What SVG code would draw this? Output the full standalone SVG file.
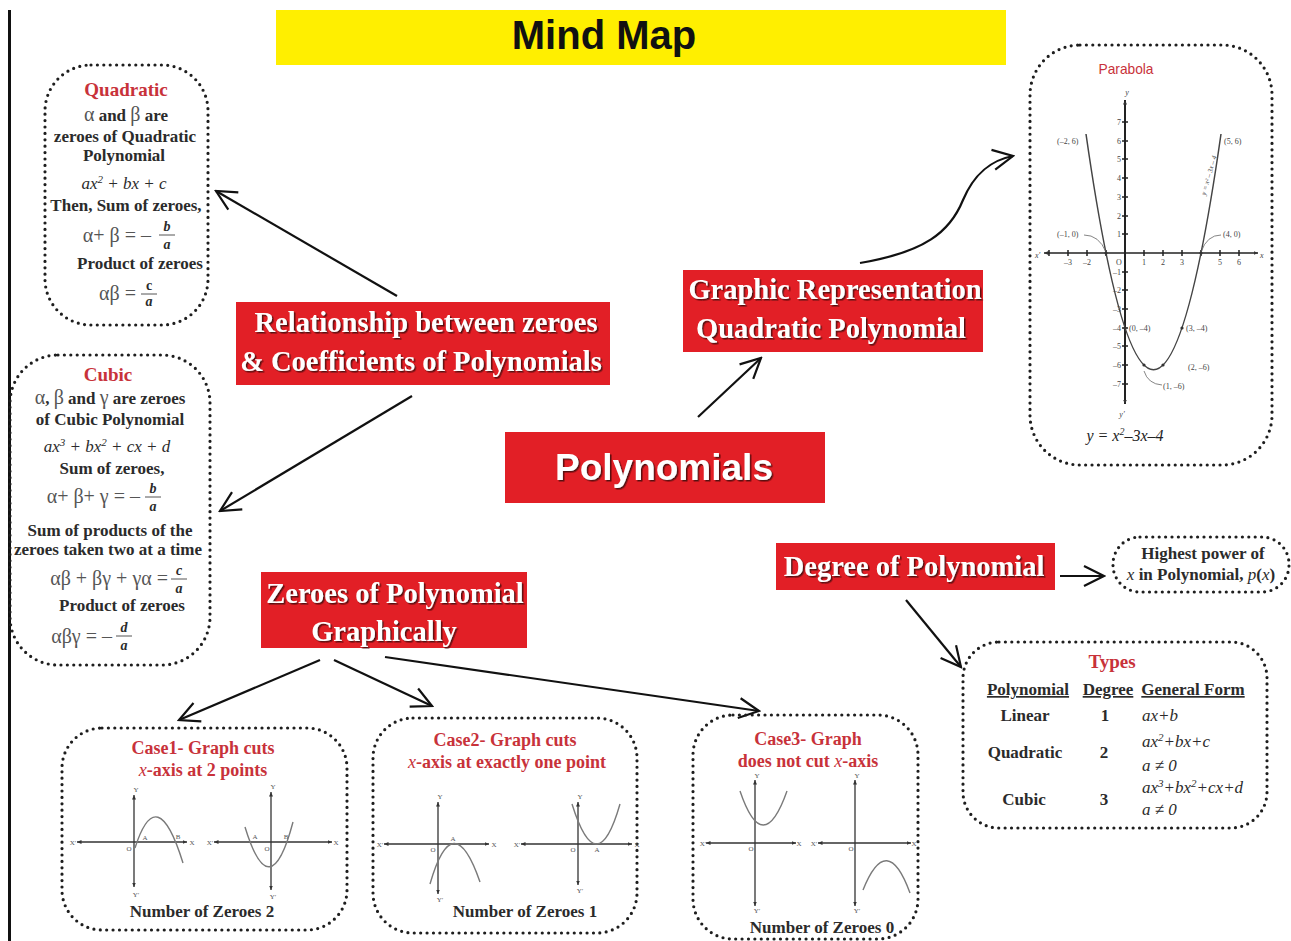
<svg xmlns="http://www.w3.org/2000/svg" width="1291" height="941" viewBox="0 0 1291 941">
<defs>
<style>
.dot{fill:none;stroke:#1e1e1e;stroke-width:3.2;stroke-dasharray:0 6.4;stroke-linecap:round}
.rbox{fill:#e21f26}
.rt{font-family:"Liberation Serif",serif;font-weight:bold;fill:#fff;font-size:28.5px;text-anchor:middle}
.t{font-family:"Liberation Serif",serif;font-weight:bold;fill:#2b2b2b;font-size:17px;text-anchor:middle}
.l{text-anchor:start}
.e{text-anchor:end}
.g{font-weight:normal;fill:#555;font-size:20px}
.fr{font-style:italic;font-size:14px}
.red{fill:#c8323a;font-size:19px}
.cr{fill:#c8323a;font-size:18px}
.it{font-style:italic;font-weight:normal}
.sup{font-size:11px}
.conn{fill:none;stroke:#111;stroke-width:2.2}
.ax{stroke:#333;stroke-width:1.3;fill:none}
.cv{stroke:#7a7a7a;stroke-width:1.4;fill:none}
.sm{font-family:"Liberation Serif",serif;font-size:7px;fill:#555;text-anchor:middle}
.pl{font-family:"Liberation Serif",serif;font-size:8px;fill:#444}
</style>
<marker id="big" viewBox="0 0 12 12" refX="11" refY="6" markerWidth="24" markerHeight="24" markerUnits="userSpaceOnUse" orient="auto">
<path d="M1,1 L11,6 L1,11" fill="none" stroke="#111" stroke-width="1.1"/>
</marker>
<marker id="sa" viewBox="0 0 10 10" refX="9" refY="5" markerWidth="5" markerHeight="5" markerUnits="userSpaceOnUse" orient="auto-start-reverse">
<path d="M0,1 L9,5 L0,9 Z" fill="#333"/>
</marker>
<filter id="sh" x="-5%" y="-20%" width="110%" height="140%">
<feDropShadow dx="1.5" dy="1.5" stdDeviation="0.6" flood-color="#4a1010" flood-opacity="0.9"/>
</filter>
</defs>
<rect width="1291" height="941" fill="#fff"/>
<rect x="8" y="10" width="3" height="931" fill="#111"/>

<g id="title">
<rect x="276" y="10" width="730" height="55" fill="#ffef00"/>
<text x="604" y="49" font-family="Liberation Sans,sans-serif" font-weight="bold" font-size="40" text-anchor="middle" fill="#111">Mind Map</text>
</g>

<g id="connectors">
<line class="conn" x1="397" y1="296" x2="216" y2="191" marker-end="url(#big)"/>
<line class="conn" x1="412" y1="396" x2="220" y2="511" marker-end="url(#big)"/>
<line class="conn" x1="698" y1="417" x2="761" y2="358" marker-end="url(#big)"/>
<path class="conn" d="M860,263 C925,252 950,232 963,200 C975,172 992,160 1013,156" marker-end="url(#big)"/>
<line class="conn" x1="1060" y1="576" x2="1104" y2="576" marker-end="url(#big)"/>
<line class="conn" x1="906" y1="600" x2="961" y2="667" marker-end="url(#big)"/>
<line class="conn" x1="320" y1="660" x2="179" y2="720" marker-end="url(#big)"/>
<line class="conn" x1="334" y1="660" x2="432" y2="706" marker-end="url(#big)"/>
<line class="conn" x1="385" y1="657" x2="759" y2="711" marker-end="url(#big)"/>
</g>

<g id="polynomials">
<rect class="rbox" x="505" y="432" width="320" height="71"/>
<text x="664" y="480" font-family="Liberation Sans,sans-serif" font-weight="bold" font-size="37" text-anchor="middle" fill="#fff" filter="url(#sh)">Polynomials</text>
</g>

<g id="relationship">
<rect class="rbox" x="236" y="302" width="374" height="83"/>
<text class="rt" x="426" y="332" filter="url(#sh)">Relationship between zeroes</text>
<text class="rt" x="421" y="371" filter="url(#sh)">&amp; Coefficients of Polynomials</text>
</g>

<g id="graphic">
<rect class="rbox" x="683" y="270" width="300" height="82"/>
<text class="rt" x="835" y="299" filter="url(#sh)">Graphic Representation</text>
<text class="rt" x="831" y="338" filter="url(#sh)">Quadratic Polynomial</text>
</g>

<g id="zeroes">
<rect class="rbox" x="261" y="572" width="266" height="76"/>
<text class="rt" x="395" y="603" filter="url(#sh)">Zeroes of Polynomial</text>
<text class="rt" x="384" y="641" filter="url(#sh)">Graphically</text>
</g>

<g id="degree">
<rect class="rbox" x="776" y="543" width="279" height="47"/>
<text class="rt" x="914" y="576" filter="url(#sh)">Degree of Polynomial</text>
</g>

<g id="quadratic">
<rect class="dot" x="45" y="65" width="163" height="260" rx="46"/>
<text class="t red" x="126" y="96">Quadratic</text>
<text class="t" x="126" y="121"><tspan class="g">α</tspan> and <tspan class="g">β</tspan> are</text>
<text class="t" x="125" y="142">zeroes of Quadratic</text>
<text class="t" x="124" y="161">Polynomial</text>
<text class="t it" x="124" y="189">ax<tspan class="sup" dy="-6">2</tspan><tspan dy="6"> + bx + c</tspan></text>
<text class="t" x="126" y="211">Then, Sum of zeroes,</text>
<text class="t g e" x="151" y="242">α+ β = –</text>
<text class="t fr" x="167" y="231">b</text>
<line x1="159" y1="235" x2="175" y2="235" stroke="#555" stroke-width="1"/>
<text class="t fr" x="167" y="249">a</text>
<text class="t" x="140" y="269">Product of zeroes</text>
<text class="t g e" x="136" y="300">αβ =</text>
<text class="t fr" x="149" y="290" style="font-style:normal">c</text>
<line x1="141" y1="294" x2="157" y2="294" stroke="#555" stroke-width="1"/>
<text class="t fr" x="149" y="306">a</text>
</g>

<g id="cubic">
<rect class="dot" x="10" y="355" width="200" height="310" rx="48"/>
<text class="t red" x="108" y="381">Cubic</text>
<text class="t" x="110" y="404"><tspan class="g">α</tspan>, <tspan class="g">β</tspan> and <tspan class="g">γ</tspan> are zeroes</text>
<text class="t" x="110" y="425">of Cubic Polynomial</text>
<text class="t it" x="107" y="452">ax<tspan class="sup" dy="-6">3</tspan><tspan dy="6"> + bx</tspan><tspan class="sup" dy="-6">2</tspan><tspan dy="6"> + cx + d</tspan></text>
<text class="t" x="112" y="474">Sum of zeroes,</text>
<text class="t g e" x="140" y="503">α+ β+ γ = –</text>
<text class="t fr" x="153" y="493">b</text>
<line x1="145" y1="497" x2="161" y2="497" stroke="#555" stroke-width="1"/>
<text class="t fr" x="153" y="511">a</text>
<text class="t" x="110" y="536">Sum of products of the</text>
<text class="t" x="108" y="555">zeroes taken two at a time</text>
<text class="t g e" x="168" y="585">αβ + βγ + γα =</text>
<text class="t fr" x="179" y="575">c</text>
<line x1="171" y1="579" x2="187" y2="579" stroke="#555" stroke-width="1"/>
<text class="t fr" x="179" y="593">a</text>
<text class="t" x="122" y="611">Product of zeroes</text>
<text class="t g e" x="112" y="643">αβγ = –</text>
<text class="t fr" x="124" y="632">d</text>
<line x1="116" y1="636" x2="132" y2="636" stroke="#555" stroke-width="1"/>
<text class="t fr" x="124" y="650">a</text>
</g>

<g id="parabola">
<rect class="dot" x="1030" y="45" width="242" height="420" rx="50"/>
<text x="1126" y="74" font-family="Liberation Sans,sans-serif" font-size="15" fill="#c8323a" text-anchor="middle" textLength="55" lengthAdjust="spacingAndGlyphs">Parabola</text>
<line x1="1125" y1="100" x2="1125" y2="404" stroke="#222" stroke-width="2" marker-start="url(#sa)" marker-end="url(#sa)"/>
<line x1="1044" y1="253" x2="1258" y2="253" stroke="#222" stroke-width="1.6" marker-start="url(#sa)" marker-end="url(#sa)"/>
<path stroke="#222" stroke-width="1.5" d="M1049,250v6M1068,250v6M1087,250v6M1106,250v6M1144,250v6M1163,250v6M1182,250v6M1201,250v6M1220,250v6M1239,250v6
M1122,122h6M1122,141h6M1122,159h6M1122,178h6M1122,197h6M1122,216h6M1122,234h6M1122,272h6M1122,290h6M1122,309h6M1122,328h6M1122,346h6M1122,365h6M1122,384h6"/>
<text class="pl" x="1127" y="95" font-size="14" font-style="italic" text-anchor="middle">y</text>
<text class="pl" x="1122" y="417" font-size="14" font-style="italic" text-anchor="middle">y′</text>
<text class="pl" x="1035" y="258" font-size="13" font-style="italic">x′</text>
<text class="pl" x="1260" y="258" font-size="13" font-style="italic">x</text>
<g class="pl" text-anchor="middle" font-size="8">
<text x="1068" y="265">–3</text><text x="1087" y="265">–2</text><text x="1119" y="265">O</text>
<text x="1144" y="265">1</text><text x="1163" y="265">2</text><text x="1182" y="265">3</text><text x="1220" y="265">5</text><text x="1239" y="265">6</text>
</g>
<g class="pl" text-anchor="end" font-size="8">
<text x="1121" y="125">7</text><text x="1121" y="144">6</text><text x="1121" y="162">5</text><text x="1121" y="181">4</text><text x="1121" y="200">3</text><text x="1121" y="219">2</text><text x="1121" y="237">1</text>
<text x="1121" y="275">–1</text><text x="1121" y="293">–2</text><text x="1121" y="312">–3</text><text x="1121" y="331">–4</text><text x="1121" y="349">–5</text><text x="1121" y="368">–6</text><text x="1121" y="387">–7</text>
</g>
<path d="M1086,134 Q1153.5,605.5 1221,134" fill="none" stroke="#444" stroke-width="1.5"/>
<path d="M1084,235 Q1099,235 1106,252 M1221,235 Q1207,235 1201,252 M1162,385 Q1148,384 1144,371" fill="none" stroke="#666" stroke-width="0.8"/>
<g fill="#333"><circle cx="1106" cy="253" r="1.6"/><circle cx="1201" cy="253" r="1.6"/><circle cx="1144" cy="365" r="1.6"/><circle cx="1163" cy="365" r="1.6"/><circle cx="1125" cy="328" r="1.6"/><circle cx="1182" cy="328" r="1.6"/></g>
<g class="pl">
<text x="1057" y="144">(–2, 6)</text>
<text x="1224" y="144">(5, 6)</text>
<text x="1057" y="237">(–1, 0)</text>
<text x="1223" y="237">(4, 0)</text>
<text x="1129" y="331">(0, –4)</text>
<text x="1186" y="331">(3, –4)</text>
<text x="1188" y="370">(2, –6)</text>
<text x="1163" y="389">(1, –6)</text>
<text transform="translate(1211,176) rotate(-74)" font-style="italic" font-size="7" text-anchor="middle">y = x² – 3x – 4</text>
</g>
<text x="1125" y="441" font-family="Liberation Serif,serif" font-size="16" font-style="italic" fill="#222" text-anchor="middle">y = x<tspan font-size="10" dy="-6">2</tspan><tspan dy="6">–3x–4</tspan></text>
</g>

<g id="highest">
<rect class="dot" x="1113" y="537" width="176" height="55" rx="27"/>
<text class="t" x="1203" y="559">Highest power of</text>
<text class="t" x="1201" y="580"><tspan class="it">x</tspan> in Polynomial, <tspan class="it">p</tspan>(<tspan class="it">x</tspan>)</text>
</g>

<g id="types">
<rect class="dot" x="963" y="642" width="304" height="186" rx="36"/>
<text class="t red" x="1112" y="668">Types</text>
<text class="t" x="1028" y="695" text-decoration="underline">Polynomial</text>
<text class="t" x="1108" y="695" text-decoration="underline">Degree</text>
<text class="t" x="1193" y="695" text-decoration="underline">General Form</text>
<text class="t" x="1025" y="721">Linear</text>
<text class="t" x="1105" y="721">1</text>
<text class="t it l" x="1142" y="721">ax+b</text>
<text class="t" x="1025" y="758">Quadratic</text>
<text class="t" x="1104" y="758">2</text>
<text class="t it l" x="1142" y="747">ax<tspan class="sup" dy="-6">2</tspan><tspan dy="6">+bx+c</tspan></text>
<text class="t it l" x="1142" y="771">a ≠ 0</text>
<text class="t" x="1024" y="805">Cubic</text>
<text class="t" x="1104" y="805">3</text>
<text class="t it l" x="1142" y="793">ax<tspan class="sup" dy="-6">3</tspan><tspan dy="6">+bx</tspan><tspan class="sup" dy="-6">2</tspan><tspan dy="6">+cx+d</tspan></text>
<text class="t it l" x="1142" y="815">a ≠ 0</text>
</g>

<g id="case1">
<rect class="dot" x="62" y="728" width="285" height="202" rx="40"/>
<text class="t cr" x="203" y="754">Case1- Graph cuts</text>
<text class="t cr" x="203" y="776"><tspan class="it">x</tspan>-axis at 2 points</text>
<line class="ax" x1="134" y1="795" x2="134" y2="887" marker-start="url(#sa)" marker-end="url(#sa)"/>
<line class="ax" x1="77" y1="842" x2="187" y2="842" marker-start="url(#sa)" marker-end="url(#sa)"/>
<path class="cv" d="M135,848 Q157,779 183,863"/>
<line class="ax" x1="271" y1="792" x2="271" y2="890" marker-start="url(#sa)" marker-end="url(#sa)"/>
<line class="ax" x1="214" y1="842" x2="332" y2="842" marker-start="url(#sa)" marker-end="url(#sa)"/>
<path class="cv" d="M245,827 Q270,909 293,822"/>
<g class="sm">
<text x="73" y="845">X′</text><text x="192" y="845">X</text><text x="136" y="792">Y</text><text x="136" y="897">Y′</text><text x="129" y="851">O</text><text x="145" y="840">A</text><text x="178" y="839">B</text>
<text x="210" y="845">X′</text><text x="336" y="845">X</text><text x="273" y="789">Y</text><text x="273" y="899">Y′</text><text x="267" y="851">O</text><text x="255" y="839">A</text><text x="286" y="839">B</text>
</g>
<text class="t" x="202" y="917">Number of Zeroes 2</text>
</g>

<g id="case2">
<rect class="dot" x="373" y="718" width="264" height="215" rx="40"/>
<text class="t cr" x="505" y="746">Case2- Graph cuts</text>
<text class="t cr" x="507" y="768"><tspan class="it">x</tspan>-axis at exactly one point</text>
<line class="ax" x1="438" y1="802" x2="438" y2="894" marker-start="url(#sa)" marker-end="url(#sa)"/>
<line class="ax" x1="384" y1="844" x2="489" y2="844" marker-start="url(#sa)" marker-end="url(#sa)"/>
<path class="cv" d="M430,884 Q453,804 480,882"/>
<line class="ax" x1="578" y1="802" x2="578" y2="885" marker-start="url(#sa)" marker-end="url(#sa)"/>
<line class="ax" x1="521" y1="844" x2="632" y2="844" marker-start="url(#sa)" marker-end="url(#sa)"/>
<path class="cv" d="M572,804 Q597,884 620,804"/>
<g class="sm">
<text x="380" y="847">X′</text><text x="494" y="847">X</text><text x="440" y="799">Y</text><text x="440" y="902">Y′</text><text x="433" y="852">O</text><text x="453" y="841">A</text>
<text x="517" y="847">X′</text><text x="637" y="847">X</text><text x="580" y="799">Y</text><text x="580" y="893">Y′</text><text x="573" y="852">O</text><text x="597" y="852">A</text>
</g>
<text class="t" x="525" y="917">Number of Zeroes 1</text>
</g>

<g id="case3">
<rect class="dot" x="693" y="715" width="225" height="224" rx="40"/>
<text class="t cr" x="808" y="745">Case3- Graph</text>
<text class="t cr" x="808" y="767">does not cut <tspan class="it">x</tspan>-axis</text>
<line class="ax" x1="755" y1="780" x2="755" y2="906" marker-start="url(#sa)" marker-end="url(#sa)"/>
<line class="ax" x1="706" y1="843" x2="796" y2="843" marker-start="url(#sa)" marker-end="url(#sa)"/>
<path class="cv" d="M740,791 Q763,859 787,791"/>
<line class="ax" x1="855" y1="780" x2="855" y2="906" marker-start="url(#sa)" marker-end="url(#sa)"/>
<line class="ax" x1="818" y1="843" x2="911" y2="843" marker-start="url(#sa)" marker-end="url(#sa)"/>
<path class="cv" d="M863,890 Q887,830 910,893"/>
<g class="sm">
<text x="703" y="846">X′</text><text x="799" y="846">X</text><text x="757" y="778">Y</text><text x="757" y="913">Y′</text><text x="751" y="851">O</text>
<text x="814" y="846">X′</text><text x="914" y="846">X</text><text x="857" y="778">Y</text><text x="857" y="913">Y′</text><text x="851" y="851">O</text>
</g>
<text class="t" x="822" y="933">Number of Zeroes 0</text>
</g>
</svg>
